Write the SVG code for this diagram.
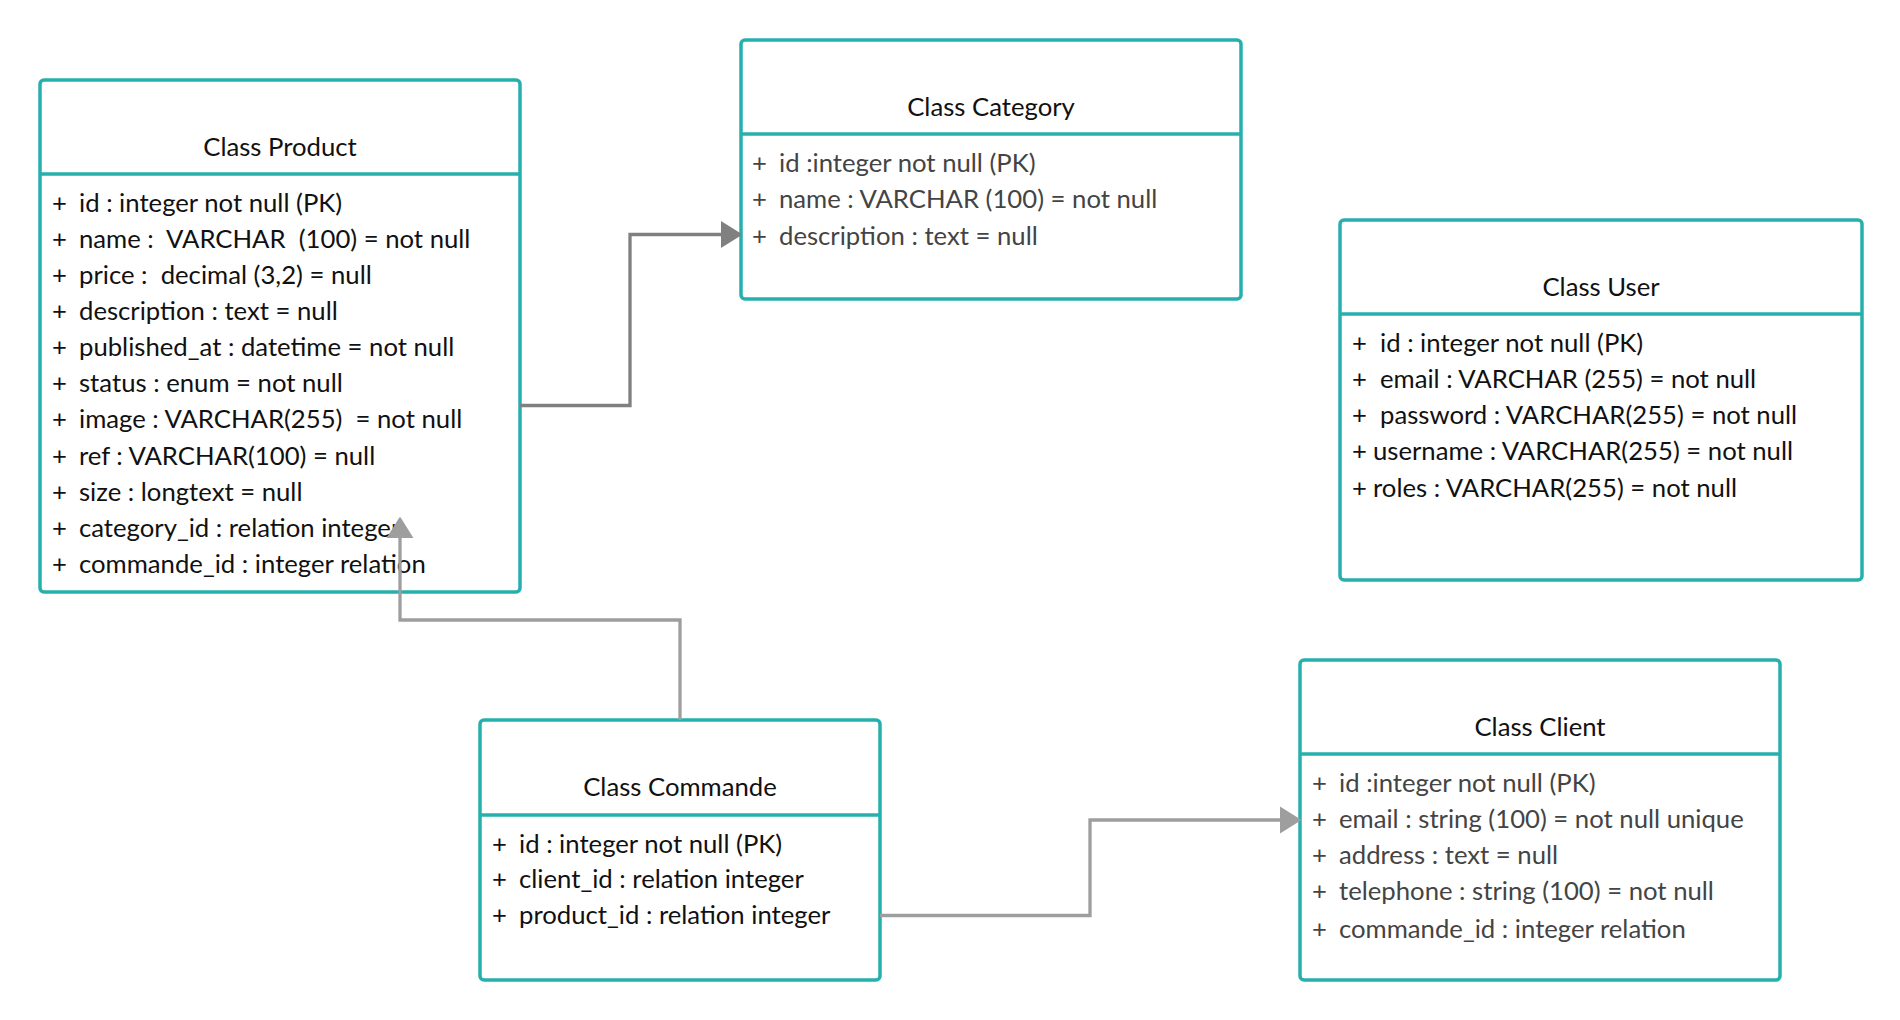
<svg xmlns="http://www.w3.org/2000/svg" width="1900" height="1020" viewBox="0 0 1900 1020">
<style>
.box{fill:#ffffff;stroke:#26b0ad;stroke-width:3.5}
.div{stroke:#26b0ad;stroke-width:3.5}
text{font-family:Lato,"Liberation Sans",sans-serif;font-size:25.7px;white-space:pre}
.title{fill:#111111;text-anchor:middle}
.row{fill:#111111}
.grey{fill:#444444}
.c1{fill:none;stroke:#808080;stroke-width:3.3}
.c2{fill:none;stroke:#9e9e9e;stroke-width:3.3}
</style>
<defs>
<marker id="a1" viewBox="0 -14 22 28" markerWidth="22" markerHeight="28" refX="0" refY="0" markerUnits="userSpaceOnUse" orient="auto">
<path d="M0,-12.5 L20,0 L0,12.5 z" fill="#808080" stroke="#808080" stroke-width="1.5" stroke-linejoin="round"/>
</marker>
<marker id="a2" viewBox="0 -14 22 28" markerWidth="22" markerHeight="28" refX="0" refY="0" markerUnits="userSpaceOnUse" orient="auto">
<path d="M0,-12.5 L20,0 L0,12.5 z" fill="#9e9e9e" stroke="#9e9e9e" stroke-width="1.5" stroke-linejoin="round"/>
</marker>
</defs>
<rect width="1900" height="1020" fill="#ffffff"/>
<g id="product">
<rect class="box" x="40" y="80" width="480" height="512" rx="4"/>
<line class="div" x1="40" y1="174" x2="520" y2="174"/>
<text class="title" x="280" y="155.5">Class Product</text>
<text class="row" y="211.5"><tspan x="52">+</tspan><tspan x="79">id : integer not null (PK)</tspan></text>
<text class="row" y="247.7"><tspan x="52">+</tspan><tspan x="79">name :  VARCHAR  (100) = not null</tspan></text>
<text class="row" y="283.8"><tspan x="52">+</tspan><tspan x="79">price :  decimal (3,2) = null</tspan></text>
<text class="row" y="320"><tspan x="52">+</tspan><tspan x="79">description : text = null</tspan></text>
<text class="row" y="356.1"><tspan x="52">+</tspan><tspan x="79">published_at : datetime = not null</tspan></text>
<text class="row" y="392.3"><tspan x="52">+</tspan><tspan x="79">status : enum = not null</tspan></text>
<text class="row" y="428.4"><tspan x="52">+</tspan><tspan x="79">image : VARCHAR(255)  = not null</tspan></text>
<text class="row" y="464.6"><tspan x="52">+</tspan><tspan x="79">ref : VARCHAR(100) = null</tspan></text>
<text class="row" y="500.7"><tspan x="52">+</tspan><tspan x="79">size : longtext = null</tspan></text>
<text class="row" y="536.9"><tspan x="52">+</tspan><tspan x="79">category_id : relation integer</tspan></text>
<text class="row" y="573"><tspan x="52">+</tspan><tspan x="79">commande_id : integer relation</tspan></text>
</g>
<g id="category">
<rect class="box" x="741" y="40" width="500" height="259" rx="4"/>
<line class="div" x1="741" y1="134" x2="1241" y2="134"/>
<text class="title" x="991" y="115.5">Class Category</text>
<text class="grey" y="171.5"><tspan x="752">+</tspan><tspan x="779">id :integer not null (PK)</tspan></text>
<text class="grey" y="208"><tspan x="752">+</tspan><tspan x="779">name : VARCHAR (100) = not null</tspan></text>
<text class="grey" y="245"><tspan x="752">+</tspan><tspan x="779">description : text = null</tspan></text>
</g>
<g id="user">
<rect class="box" x="1340" y="220" width="522" height="360" rx="4"/>
<line class="div" x1="1340" y1="314" x2="1862" y2="314"/>
<text class="title" x="1601" y="295.5">Class User</text>
<text class="row" y="351.7"><tspan x="1352">+</tspan><tspan x="1380">id : integer not null (PK)</tspan></text>
<text class="row" y="387.7"><tspan x="1352">+</tspan><tspan x="1380">email : VARCHAR (255) = not null</tspan></text>
<text class="row" y="423.5"><tspan x="1352">+</tspan><tspan x="1380">password : VARCHAR(255) = not null</tspan></text>
<text class="row" y="459.5"><tspan x="1352">+</tspan><tspan x="1373">username : VARCHAR(255) = not null</tspan></text>
<text class="row" y="496.5"><tspan x="1352">+</tspan><tspan x="1373">roles : VARCHAR(255) = not null</tspan></text>
</g>
<g id="commande">
<rect class="box" x="480" y="720" width="400" height="260" rx="4"/>
<line class="div" x1="480" y1="815" x2="880" y2="815"/>
<text class="title" x="680" y="795.5">Class Commande</text>
<text class="row" y="852.5"><tspan x="492">+</tspan><tspan x="519">id : integer not null (PK)</tspan></text>
<text class="row" y="888"><tspan x="492">+</tspan><tspan x="519">client_id : relation integer</tspan></text>
<text class="row" y="924"><tspan x="492">+</tspan><tspan x="519">product_id : relation integer</tspan></text>
</g>
<g id="client">
<rect class="box" x="1300" y="660" width="480" height="320" rx="4"/>
<line class="div" x1="1300" y1="754" x2="1780" y2="754"/>
<text class="title" x="1540" y="735.5">Class Client</text>
<text class="grey" y="791.7"><tspan x="1312">+</tspan><tspan x="1339">id :integer not null (PK)</tspan></text>
<text class="grey" y="827.7"><tspan x="1312">+</tspan><tspan x="1339">email : string (100) = not null unique</tspan></text>
<text class="grey" y="863.5"><tspan x="1312">+</tspan><tspan x="1339">address : text = null</tspan></text>
<text class="grey" y="900"><tspan x="1312">+</tspan><tspan x="1339">telephone : string (100) = not null</tspan></text>
<text class="grey" y="937.5"><tspan x="1312">+</tspan><tspan x="1339">commande_id : integer relation</tspan></text>
</g>
<g id="connectors">
<path class="c1" d="M520,405.5 H630 V234.5 H721" marker-end="url(#a1)"/>
<path class="c2" d="M680,720 V620 H400 V538" marker-end="url(#a2)"/>
<path class="c2" d="M880,915.5 H1090 V820 H1280" marker-end="url(#a2)"/>
</g>
</svg>
